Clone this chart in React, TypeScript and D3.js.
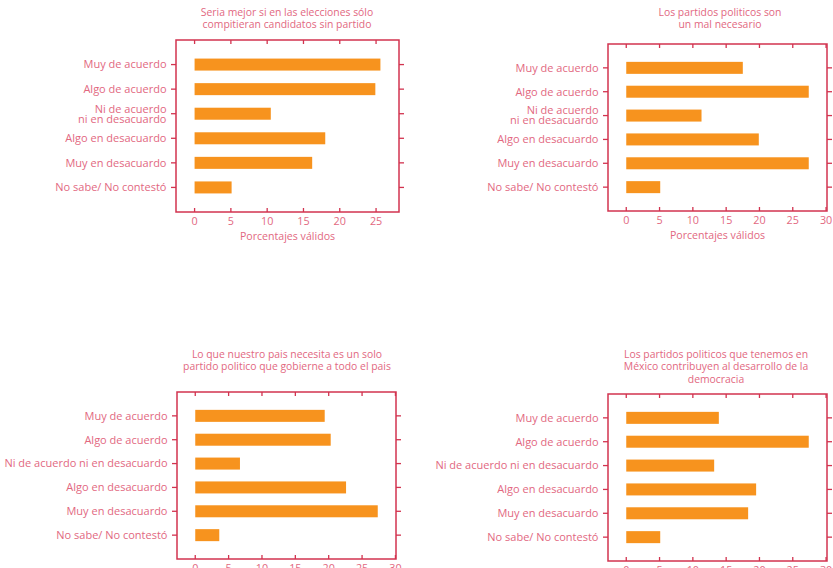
import React from "react";
import * as d3 from "d3";

const categoriesTwoLine: string[][] = [
  ["Muy de acuerdo"],
  ["Algo de acuerdo"],
  ["Ni de acuerdo", "ni en desacuardo"],
  ["Algo en desacuardo"],
  ["Muy en desacuardo"],
  ["No sabe/ No contestó"],
];
const categoriesOneLine: string[][] = [
  ["Muy de acuerdo"],
  ["Algo de acuerdo"],
  ["Ni de acuerdo ni en desacuardo"],
  ["Algo en desacuardo"],
  ["Muy en desacuardo"],
  ["No sabe/ No contestó"],
];

const values1 = [25.6, 24.9, 10.5, 18.0, 16.2, 5.1];
const values2 = [17.5, 27.4, 11.3, 19.9, 27.4, 5.1];
const values3 = [19.4, 20.3, 6.7, 22.6, 27.35, 3.6];
const values4 = [13.9, 27.4, 13.2, 19.5, 18.3, 5.1];

const title1 = ["Seria mejor si en las elecciones sólo", "compitieran candidatos sin partido"];
const title2 = ["Los partidos politicos son", "un mal necesario"];
const title3 = ["Lo que nuestro pais necesita es un solo", "partido politico que gobierne a todo el pais"];
const title4 = ["Los partidos politicos que tenemos en", "México contribuyen al desarrollo de la", "democracia"];

const xTicks = [0, 5, 10, 15, 20, 25, 30];
const axisLabel = "Porcentajes válidos";

const FRAME = "#d2334f";
const TEXT = "#e2687f";
const BAR = "#f7931e";
const FONT = "'Open Sans', 'DejaVu Sans', sans-serif";

interface PanelProps {
  values: number[];
  cats: string[][];
  title: string[];
  x0: number;
  x1: number;
  y0: number;
  y1: number;
  titleX: number;
  titleY: number;
}

function Panel({ values, cats, title, x0, x1, y0, y1, titleX, titleY }: PanelProps) {
  const mx = d3.max(values) as number;
  const x = d3.scaleLinear().domain([-0.1 * mx, 1.1 * mx]).range([x0, x1]);
  const keys = cats.map((c) => c.join(" "));
  const y = d3.scalePoint<string>().domain(keys).range([y0, y1]).padding(1);
  const ticks = xTicks.filter((t) => t <= x.domain()[1] + 0.3);
  const barH = 12;
  return (
    <g>
      {title.map((t, i) => (
        <text key={i} x={titleX} y={titleY + i * 12.3} textAnchor="middle" fontSize={10.4} fill={TEXT} fontFamily={FONT}>
          {t}
        </text>
      ))}
      {values.map((v, i) => (
        <rect key={i} x={x(0)} y={(y(keys[i]) as number) - barH / 2} width={x(v) - x(0)} height={barH} fill={BAR} />
      ))}
      <rect x={x0} y={y0} width={x1 - x0} height={y1 - y0} fill="none" stroke={FRAME} strokeWidth={1.5} />
      {ticks.map((t) => (
        <g key={t}>
          <line x1={x(t)} x2={x(t)} y1={y0} y2={y0 + 4} stroke={FRAME} strokeWidth={1.3} />
          <line x1={x(t)} x2={x(t)} y1={y1} y2={y1 - 4} stroke={FRAME} strokeWidth={1.3} />
          <text x={x(t)} y={y1 + 13} textAnchor="middle" fontSize={10.8} fill={TEXT} fontFamily={FONT}>
            {t}
          </text>
        </g>
      ))}
      {keys.map((k, i) => {
        const yy = y(k) as number;
        const lines = cats[i];
        return (
          <g key={k}>
            <line x1={x0 - 5} x2={x0} y1={yy} y2={yy} stroke={FRAME} strokeWidth={1.3} />
            <line x1={x1} x2={x1 + 5} y1={yy} y2={yy} stroke={FRAME} strokeWidth={1.3} />
            {lines.map((l, j) => (
              <text
                key={j}
                x={x0 - 9.5}
                y={yy + 3.8 + (j - (lines.length - 1) / 2) * 10}
                textAnchor="end"
                fontSize={11}
                fill={TEXT}
                fontFamily={FONT}
              >
                {l}
              </text>
            ))}
          </g>
        );
      })}
      <text x={(x0 + x1) / 2} y={y1 + 28} textAnchor="middle" fontSize={10.6} fill={TEXT} fontFamily={FONT}>
        {axisLabel}
      </text>
    </g>
  );
}

export default function App() {
  return (
    <svg width={833} height={568} style={{ position: "absolute", left: 0, top: 0, background: "#fff" }}>
      <Panel values={values1} cats={categoriesTwoLine} title={title1} x0={176} x1={399} y0={40} y1={212} titleX={287} titleY={16} />
      <Panel values={values2} cats={categoriesTwoLine} title={title2} x0={608} x1={827} y0={44} y1={211} titleX={720} titleY={16} />
      <Panel values={values3} cats={categoriesOneLine} title={title3} x0={177} x1={396} y0={392} y1={559} titleX={287} titleY={358} />
      <Panel values={values4} cats={categoriesOneLine} title={title4} x0={608} x1={827} y0={394} y1={561} titleX={716} titleY={358} />
    </svg>
  );
}
